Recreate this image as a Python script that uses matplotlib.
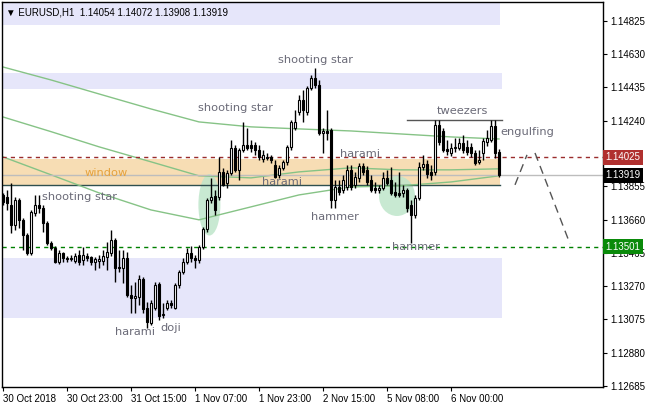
import matplotlib
matplotlib.use('Agg')
import matplotlib.pyplot as plt
from matplotlib.patches import Rectangle, Ellipse

# ---------------- data ----------------
opens = [1.13805,1.13794,1.13747,1.13630,1.13776,1.13659,1.13571,1.13465,1.13700,1.13747,
         1.13729,1.13641,1.13524,1.13495,1.13413,1.13465,1.13436,1.13430,1.13419,1.13454,
         1.13424,1.13448,1.13442,1.13413,1.13419,1.13419,1.13442,1.13465,1.13542,1.13384,
         1.13378,1.13436,1.13219,1.13202,1.13208,1.13313,1.13143,1.13055,1.13143,1.13284,
         1.13102,1.13143,1.13172,1.13143,1.13278,1.13354,1.13413,1.13465,1.13436,1.13424,
         1.13501,1.13606,1.13776,1.13799,1.13794,1.13940,1.13876,1.13934,1.14081,1.13952,
         1.14069,1.14098,1.14098,1.14098,1.14069,1.14016,1.14028,1.14028,1.13981,1.13923,
         1.13964,1.13999,1.14087,1.14198,1.14292,1.14362,1.14292,1.14432,1.14491,1.14450,
         1.14169,1.14180,1.14186,1.13776,1.13852,1.13835,1.13852,1.13952,1.13864,1.13905,
         1.13975,1.13952,1.13893,1.13846,1.13835,1.13846,1.13905,1.13893,1.13823,1.13817,
         1.13817,1.13835,1.13747,1.13688,1.13788,1.13969,1.13987,1.13940,1.13940,1.14215,
         1.14180,1.14075,1.14051,1.14081,1.14081,1.14110,1.14087,1.14087,1.14051,1.13999,
         1.14051,1.14116,1.14128,1.14210,1.14054]
highs = [1.13817,1.13835,1.13876,1.13794,1.13788,1.13671,1.13583,1.13717,1.13805,1.13805,
         1.13747,1.13653,1.13536,1.13506,1.13483,1.13471,1.13448,1.13454,1.13465,1.13483,
         1.13501,1.13465,1.13448,1.13442,1.13454,1.13483,1.13530,1.13600,1.13553,1.13483,
         1.13483,1.13471,1.13278,1.13295,1.13337,1.13325,1.13178,1.13190,1.13295,1.13295,
         1.13172,1.13190,1.13190,1.13290,1.13366,1.13436,1.13495,1.13506,1.13454,1.13512,
         1.13618,1.13788,1.13905,1.13835,1.14028,1.13964,1.13952,1.14128,1.14098,1.14081,
         1.14233,1.14198,1.14128,1.14116,1.14098,1.14069,1.14051,1.14040,1.14010,1.13981,
         1.14010,1.14098,1.14245,1.14303,1.14391,1.14421,1.14444,1.14509,1.14550,1.14479,
         1.14198,1.14303,1.14198,1.13893,1.13893,1.13923,1.13981,1.13981,1.13940,1.13993,
         1.13993,1.13975,1.13923,1.13881,1.13864,1.13940,1.13952,1.13969,1.13881,1.13940,
         1.13864,1.13846,1.13776,1.13805,1.13999,1.14040,1.14010,1.13981,1.14245,1.14245,
         1.14198,1.14128,1.14110,1.14139,1.14139,1.14157,1.14128,1.14110,1.14069,1.14069,
         1.14139,1.14186,1.14245,1.14245,1.14072]
lows = [1.13747,1.13717,1.13583,1.13600,1.13612,1.13483,1.13454,1.13454,1.13682,1.13700,
        1.13588,1.13512,1.13483,1.13407,1.13401,1.13413,1.13413,1.13419,1.13407,1.13395,
        1.13395,1.13419,1.13395,1.13366,1.13378,1.13395,1.13366,1.13448,1.13295,1.13354,
        1.13290,1.13208,1.13114,1.13114,1.13161,1.13114,1.13026,1.13044,1.13131,1.13073,
        1.13085,1.13131,1.13143,1.13137,1.13260,1.13342,1.13401,1.13413,1.13378,1.13407,
        1.13489,1.13588,1.13758,1.13688,1.13776,1.13858,1.13846,1.13923,1.13940,1.13893,
        1.14057,1.14069,1.14057,1.14040,1.14010,1.13999,1.14010,1.13993,1.13905,1.13905,
        1.13952,1.13981,1.14069,1.14186,1.14274,1.14233,1.14274,1.14421,1.14432,1.14157,
        1.14051,1.14128,1.13729,1.13729,1.13805,1.13817,1.13835,1.13835,1.13846,1.13881,
        1.13923,1.13864,1.13823,1.13817,1.13817,1.13835,1.13864,1.13805,1.13794,1.13794,
        1.13794,1.13706,1.13524,1.13671,1.13776,1.13952,1.13905,1.13893,1.13923,1.14098,
        1.14057,1.14040,1.14034,1.14057,1.14069,1.14051,1.14040,1.14028,1.13981,1.13987,
        1.14010,1.14092,1.14116,1.14022,1.13908]
closes = [1.13764,1.13758,1.13630,1.13776,1.13659,1.13571,1.13465,1.13706,1.13747,1.13729,
          1.13641,1.13524,1.13495,1.13413,1.13465,1.13436,1.13430,1.13436,1.13448,1.13413,
          1.13454,1.13436,1.13413,1.13430,1.13430,1.13448,1.13471,1.13542,1.13378,1.13378,
          1.13436,1.13219,1.13202,1.13213,1.13313,1.13137,1.13061,1.13172,1.13278,1.13096,
          1.13108,1.13172,1.13161,1.13278,1.13354,1.13413,1.13465,1.13436,1.13424,1.13501,
          1.13606,1.13776,1.13794,1.13717,1.13940,1.13864,1.13934,1.14081,1.13952,1.14069,
          1.14098,1.14081,1.14081,1.14069,1.14028,1.14040,1.14022,1.14010,1.13911,1.13964,
          1.13999,1.14087,1.14233,1.14233,1.14362,1.14303,1.14432,1.14491,1.14450,1.14169,
          1.14180,1.14169,1.13776,1.13852,1.13823,1.13893,1.13952,1.13852,1.13911,1.13975,
          1.13940,1.13881,1.13835,1.13835,1.13846,1.13905,1.13876,1.13817,1.13805,1.13805,
          1.13835,1.13729,1.13688,1.13788,1.13969,1.13987,1.13928,1.13923,1.14215,1.14116,
          1.14069,1.14063,1.14081,1.14087,1.14110,1.14069,1.14057,1.14051,1.13993,1.14010,
          1.14122,1.14139,1.14210,1.14051,1.13919]

ma_idx = [0, 12, 24, 37, 49, 62, 74, 87, 99, 112, 124]
ma_a = [1.14555,1.14479,1.14397,1.14309,1.14233,1.14204,1.14192,1.14180,1.14163,1.14145,1.14133]
ma_b = [1.14262,1.14176,1.14087,1.13999,1.13917,1.13905,1.13940,1.13964,1.13952,1.13952,1.13958]
ma_c = [1.14028,1.13923,1.13817,1.13717,1.13659,1.13735,1.13805,1.13852,1.13858,1.13881,1.13917]

ytick_vals = [1.14825,1.14630,1.14435,1.14240,1.13855,1.13660,1.13465,1.13270,1.13075,1.12880,1.12685]
xtick_idx = [0, 16, 32, 48, 64, 80, 96, 112]
xtick_labels = ['30 Oct 2018','30 Oct 23:00','31 Oct 15:00','1 Nov 07:00',
                '1 Nov 23:00','2 Nov 15:00','5 Nov 08:00','6 Nov 00:00']

resistance_level = 1.14025
support_level = 1.13501
last_price = 1.13919
tweezers_level = 1.14245

zone_top = (1.14802, 1.14936)
zone_upper = (1.14426, 1.14520)
zone_window = (1.13864, 1.14016)
zone_lower = (1.13085, 1.13436)

proj_up_x = [128, 131]
proj_up_y = [1.13864, 1.14040]
proj_down_x = [133, 141.75]
proj_down_y = [1.14051, 1.13518]

# ---------------- figure ----------------
W, H = 647, 409
fig = plt.figure(figsize=(W/100, H/100), dpi=100)
fig.patch.set_facecolor('white')
ax = fig.add_axes([2/W, 22/H, 601/W, 385/H])
ax.set_xlim(-0.25, 150)
ax.set_ylim(1.12679, 1.14936)

lav = '#E6E6FA'
def zone(lo_hi, x1, color, z=0):
    ax.add_patch(Rectangle((-0.25, lo_hi[0]), x1 + 0.25, lo_hi[1]-lo_hi[0],
                           facecolor=color, edgecolor='none', zorder=z))

zone(zone_top, 124.25, lav)
zone(zone_upper, 124.75, lav)
zone(zone_lower, 124.75, lav)
zone(zone_window, 124.25, '#F7DDB4')
ax.plot([-0.25, 124.25], [zone_window[0]]*2, color='#2F4F4F', lw=1, zorder=2)

# highlight blobs
ax.add_patch(Ellipse((51.6, 1.13747), 5.5, 0.00360, facecolor='#BFE6CB', edgecolor='none', alpha=0.85, zorder=1))
ax.add_patch(Ellipse((98.5, 1.13799), 9.0, 0.00235, facecolor='#BFE6CB', edgecolor='none', alpha=0.85, zorder=1))

# moving averages
for ma in (ma_a, ma_b, ma_c):
    ax.plot(ma_idx, ma, color='#86C386', lw=1, zorder=2)

# horizontal levels
ax.axhline(last_price, color='#BDBDBD', lw=1, zorder=2)
ax.axhline(resistance_level, color='#9B2D2D', lw=1, ls=(0, (3, 3)), zorder=2)
ax.axhline(support_level, color='#008000', lw=1, ls=(0, (3, 3)), zorder=2)
ax.plot([101, 124.75], [tweezers_level]*2, color='#555555', lw=1, zorder=2)

# projection
ax.plot(proj_up_x, proj_up_y, color='#555555', lw=1, ls=(0, (6, 4)), zorder=2)
ax.plot(proj_down_x, proj_down_y, color='#555555', lw=1, ls=(0, (6, 4)), zorder=2)

# candles
idx = list(range(len(opens)))
ax.vlines(idx, lows, highs, color='black', lw=1, zorder=3)
bottoms = [min(o, c) for o, c in zip(opens, closes)]
heights = [abs(c - o) for o, c in zip(opens, closes)]
fcs = ['white' if c >= o else 'black' for o, c in zip(opens, closes)]
ax.bar(idx, heights, bottom=bottoms, width=0.7, color=fcs, edgecolor='black',
       linewidth=0.8, zorder=4)

# annotations
tc = '#6B6B78'
fs = 8.2
labels = [
    ('shooting star', 78, 1.14596, tc),
    ('shooting star', 58, 1.14315, tc),
    ('shooting star', 19, 1.13794, tc),
    ('window', 25.75, 1.13934, '#E6A23C'),
    ('harami', 89.25, 1.14046, tc),
    ('harami', 69.75, 1.13881, tc),
    ('hammer', 83, 1.13676, tc),
    ('hammer', 103.25, 1.13501, tc),
    ('harami', 33, 1.13003, tc),
    ('doji', 42, 1.13026, tc),
    ('tweezers', 114.75, 1.14298, tc),
    ('engulfing', 131, 1.14176, tc),
]
for t, x, y, c in labels:
    ax.text(x, y, t, color=c, fontsize=fs, ha='center', va='center', zorder=5)

# header
ax.text(0.006, 0.972, '\u25BC EURUSD,H1  1.14054 1.14072 1.13908 1.13919',
        transform=ax.transAxes, fontsize=7, color='black', ha='left', va='center',
        zorder=6, family=['Liberation Sans', 'DejaVu Sans'])

# axes
for s in ax.spines.values():
    s.set_color('black')
    s.set_linewidth(1)
ax.yaxis.tick_right()
ax.set_yticks(ytick_vals)
ax.set_yticklabels([f'{v:.5f}' for v in ytick_vals], fontsize=7, family='Liberation Sans')
ax.tick_params(axis='y', length=3, pad=2, colors='black')
ax.set_xticks(xtick_idx)
ax.set_xticklabels(xtick_labels, fontsize=7, ha='left', family='Liberation Sans')
ax.tick_params(axis='x', length=3, pad=2)

ytr = ax.get_yaxis_transform()
for val, bg in ((resistance_level, '#B0302F'), (last_price, '#000000'), (support_level, '#0A8A0A')):
    ax.text(1.004, val, f'{val:.5f}', transform=ytr, fontsize=7, color='white',
            ha='left', va='center', zorder=10, clip_on=False, family='Liberation Sans',
            bbox=dict(boxstyle='square,pad=0.25', fc=bg, ec='none'))

fig.savefig('out.png', dpi=100)
